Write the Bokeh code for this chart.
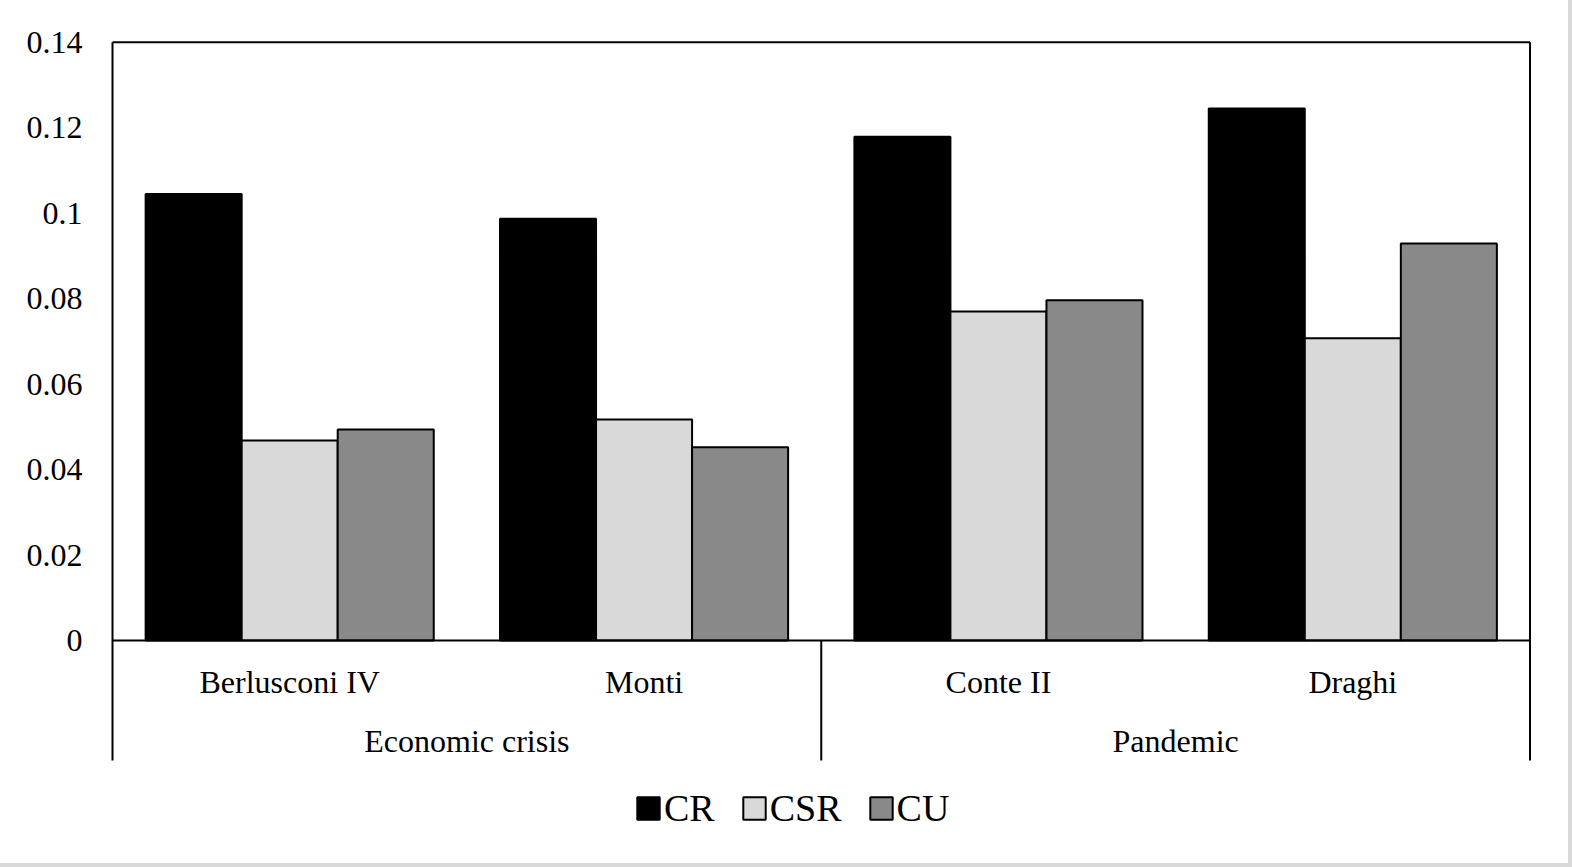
from bokeh.plotting import figure
from bokeh.models import ColumnDataSource, Range1d, FixedTicker, Legend, LegendItem
from bokeh.core.properties import value
from bokeh.embed import file_html
from bokeh.resources import INLINE

# ---- data ----
governments = ["Berlusconi IV", "Monti", "Conte II", "Draghi"]
periods = ["Economic crisis", "Pandemic"]
period_of_government = ["Economic crisis", "Economic crisis", "Pandemic", "Pandemic"]
series_names = ["CR", "CSR", "CU"]
cr_values = [0.1045, 0.0987, 0.1179, 0.1245]
csr_values = [0.0468, 0.0517, 0.0770, 0.0707]
cu_values = [0.0494, 0.0452, 0.0796, 0.0929]
series_colors = ["#000000", "#d9d9d9", "#898989"]
y_ticks = [0, 0.02, 0.04, 0.06, 0.08, 0.1, 0.12, 0.14]
y_tick_labels = ["0", "0.02", "0.04", "0.06", "0.08", "0.1", "0.12", "0.14"]

FONT = "Liberation Serif"
Y_TOP = 0.14
PX = 0.14 / 598.3          # data units per screen pixel (vertical)
Y_AXIS_BOTTOM = -120 * PX  # end of the category-axis lines
Y_START = -205 * PX        # frame extends down to hold the legend
Y_END = Y_TOP + 3.7 * PX
XPX = 4 / 1417.5           # data units per screen pixel (horizontal)
BAR_W = 0.271

n = len(governments)
centers = [i + 0.5 for i in range(n)]

p = figure(width=1556, height=851, output_backend="svg", toolbar_location=None,
           x_range=Range1d(-4 * XPX, n + 3.5 * XPX),
           y_range=Range1d(Y_START, Y_END),
           x_axis_location=None,
           min_border_left=108, min_border_right=23,
           min_border_top=38, min_border_bottom=6,
           background_fill_color="white", border_fill_color="white",
           styles={"outline": "4px solid #d9d9d9", "outline-offset": "12px"})
p.outline_line_color = None
p.grid.grid_line_color = None

# y axis
ax = p.yaxis[0]
ax.ticker = FixedTicker(ticks=y_ticks)
ax.major_label_overrides = dict(zip(y_ticks, y_tick_labels))
ax.axis_line_color = None
ax.major_tick_line_color = None
ax.minor_tick_line_color = None
ax.major_tick_in = 0
ax.major_tick_out = 0
ax.major_label_standoff = 26
ax.major_label_text_font = FONT
ax.major_label_text_font_size = "32px"
ax.major_label_text_color = "black"

# bars
renderers = []
offsets = [-BAR_W, 0, BAR_W]
series_values = {"CR": cr_values, "CSR": csr_values, "CU": cu_values}
for name, color, off in zip(series_names, series_colors, offsets):
    xs = [c + off for c in centers]
    s = ColumnDataSource(dict(x=xs, top=series_values[name]))
    r = p.vbar(x="x", top="top", bottom=0, width=BAR_W, source=s,
               fill_color=color, line_color="black", line_width=2)
    renderers.append(r)

# frame lines (top, left, right, zero line, group separator)
p.segment(x0=[0, 0, n, 0, n / 2], y0=[Y_TOP, Y_AXIS_BOTTOM, Y_AXIS_BOTTOM, 0, Y_AXIS_BOTTOM],
          x1=[n, 0, n, n, n / 2], y1=[Y_TOP, Y_TOP, Y_TOP, 0, 0],
          line_color="black", line_width=2)

# category labels
p.text(x=centers, y=[-41 * PX] * n, text=governments,
       text_font=value(FONT), text_font_size="32px", text_color="black",
       text_align="center", text_baseline="alphabetic")
group_centers = []
for per in periods:
    idx = [i for i, g in enumerate(period_of_government) if g == per]
    group_centers.append((min(idx) + max(idx) + 1) / 2)
p.text(x=group_centers, y=[-100 * PX] * len(periods), text=periods,
       text_font=value(FONT), text_font_size="32px", text_color="black",
       text_align="center", text_baseline="alphabetic")

# legend
legend = Legend(items=[LegendItem(label=nm, renderers=[r]) for nm, r in zip(series_names, renderers)],
                orientation="horizontal", location=(526, 15),
                glyph_width=28, glyph_height=28, label_standoff=2, spacing=25,
                padding=0, margin=0, border_line_color=None, background_fill_alpha=0,
                label_text_font=FONT, label_text_font_size="38px", label_text_color="black")
p.add_layout(legend, "center")

open("out.html", "w").write(file_html(p, INLINE))
